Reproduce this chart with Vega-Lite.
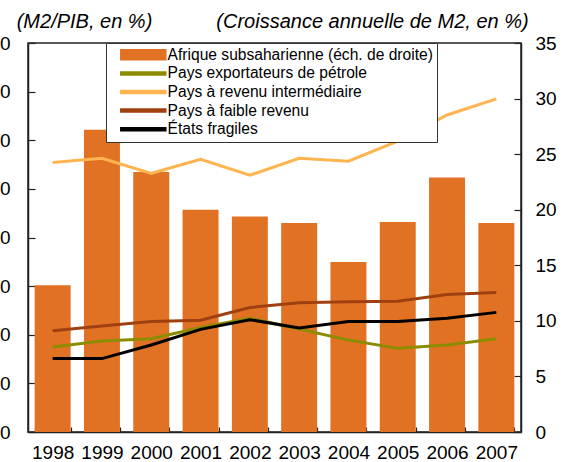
{
  "$schema": "https://vega.github.io/schema/vega-lite/v6.json",
  "width": 493,
  "height": 389,
  "autosize": {"type": "none"},
  "padding": {"left": 28, "top": 43, "right": 48, "bottom": 30},
  "config": {
    "view": {"stroke": "#222", "strokeWidth": 1.5},
    "font": "Liberation Sans",
    "axis": {"grid": false, "domainColor": "#222", "domainWidth": 1.5, "tickColor": "#222", "tickWidth": 1.2, "labelColor": "#000", "labelFont": "Liberation Sans", "labelFontSize": 19, "titleFont": "Liberation Sans", "titleFontSize": 20, "titleFontStyle": "italic", "titleFontWeight": "normal", "titleColor": "#000"}
  },
  "data": {
    "values": [
      {"year": "1998", "series": "Afrique subsaharienne (éch. de droite)", "value": 13.2},
      {"year": "1999", "series": "Afrique subsaharienne (éch. de droite)", "value": 27.2},
      {"year": "2000", "series": "Afrique subsaharienne (éch. de droite)", "value": 23.4},
      {"year": "2001", "series": "Afrique subsaharienne (éch. de droite)", "value": 20.0},
      {"year": "2002", "series": "Afrique subsaharienne (éch. de droite)", "value": 19.4},
      {"year": "2003", "series": "Afrique subsaharienne (éch. de droite)", "value": 18.8},
      {"year": "2004", "series": "Afrique subsaharienne (éch. de droite)", "value": 15.3},
      {"year": "2005", "series": "Afrique subsaharienne (éch. de droite)", "value": 18.9},
      {"year": "2006", "series": "Afrique subsaharienne (éch. de droite)", "value": 22.9},
      {"year": "2007", "series": "Afrique subsaharienne (éch. de droite)", "value": 18.8},
      {"year": "1998", "series": "Pays exportateurs de pétrole", "value": 17.5},
      {"year": "1999", "series": "Pays exportateurs de pétrole", "value": 18.7},
      {"year": "2000", "series": "Pays exportateurs de pétrole", "value": 19.2},
      {"year": "2001", "series": "Pays exportateurs de pétrole", "value": 21.5},
      {"year": "2002", "series": "Pays exportateurs de pétrole", "value": 23.4},
      {"year": "2003", "series": "Pays exportateurs de pétrole", "value": 21.2},
      {"year": "2004", "series": "Pays exportateurs de pétrole", "value": 18.9},
      {"year": "2005", "series": "Pays exportateurs de pétrole", "value": 17.2},
      {"year": "2006", "series": "Pays exportateurs de pétrole", "value": 17.9},
      {"year": "2007", "series": "Pays exportateurs de pétrole", "value": 19.2},
      {"year": "1998", "series": "Pays à revenu intermédiaire", "value": 55.4},
      {"year": "1999", "series": "Pays à revenu intermédiaire", "value": 56.3},
      {"year": "2000", "series": "Pays à revenu intermédiaire", "value": 53.2},
      {"year": "2001", "series": "Pays à revenu intermédiaire", "value": 56.1},
      {"year": "2002", "series": "Pays à revenu intermédiaire", "value": 52.8},
      {"year": "2003", "series": "Pays à revenu intermédiaire", "value": 56.3},
      {"year": "2004", "series": "Pays à revenu intermédiaire", "value": 55.7},
      {"year": "2005", "series": "Pays à revenu intermédiaire", "value": 59.8},
      {"year": "2006", "series": "Pays à revenu intermédiaire", "value": 65.2},
      {"year": "2007", "series": "Pays à revenu intermédiaire", "value": 68.5},
      {"year": "1998", "series": "Pays à faible revenu", "value": 20.8},
      {"year": "1999", "series": "Pays à faible revenu", "value": 21.8},
      {"year": "2000", "series": "Pays à faible revenu", "value": 22.7},
      {"year": "2001", "series": "Pays à faible revenu", "value": 23.0},
      {"year": "2002", "series": "Pays à faible revenu", "value": 25.6},
      {"year": "2003", "series": "Pays à faible revenu", "value": 26.6},
      {"year": "2004", "series": "Pays à faible revenu", "value": 26.8},
      {"year": "2005", "series": "Pays à faible revenu", "value": 26.9},
      {"year": "2006", "series": "Pays à faible revenu", "value": 28.3},
      {"year": "2007", "series": "Pays à faible revenu", "value": 28.7},
      {"year": "1998", "series": "États fragiles", "value": 15.1},
      {"year": "1999", "series": "États fragiles", "value": 15.1},
      {"year": "2000", "series": "États fragiles", "value": 17.9},
      {"year": "2001", "series": "États fragiles", "value": 21.1},
      {"year": "2002", "series": "États fragiles", "value": 23.1},
      {"year": "2003", "series": "États fragiles", "value": 21.4},
      {"year": "2004", "series": "États fragiles", "value": 22.7},
      {"year": "2005", "series": "États fragiles", "value": 22.7},
      {"year": "2006", "series": "États fragiles", "value": 23.4},
      {"year": "2007", "series": "États fragiles", "value": 24.6}
    ]
  },
  "layer": [
    {
      "transform": [{"filter": "datum.series === 'Afrique subsaharienne (éch. de droite)'"}],
      "mark": {"type": "bar"},
      "encoding": {
        "x": {
          "field": "year", "type": "ordinal",
          "scale": {"paddingInner": 0.27, "paddingOuter": 0.135},
          "axis": {"title": null, "labelAngle": 0, "tickBand": "extent", "tickSize": -5, "labelPadding": 16, "labelBaseline": "top"}
        },
        "y": {
          "field": "value", "type": "quantitative",
          "scale": {"domain": [0, 35], "nice": false},
          "axis": {"orient": "right", "values": [0, 5, 10, 15, 20, 25, 30, 35], "tickSize": -7, "labelPadding": 21, "labelAlign": "left",
                   "title": "(Croissance annuelle de M2, en %)", "titleAngle": 0, "titleAlign": "center", "titleBaseline": "alphabetic", "titleX": -149, "titleY": -16}
        },
        "color": {
          "field": "series", "type": "nominal",
          "scale": {
            "domain": ["Afrique subsaharienne (éch. de droite)", "Pays exportateurs de pétrole", "Pays à revenu intermédiaire", "Pays à faible revenu", "États fragiles"],
            "range": ["#E27223", "#8C8C00", "#FFB450", "#A04010", "#000000"]
          },
          "legend": {
            "title": null, "orient": "none", "legendX": 78, "legendY": 0, "direction": "vertical",
            "strokeColor": "#333", "fillColor": "white", "padding": 4, "symbolOffset": 8,
            "symbolSize": 100, "symbolType": "M-1,-0.3H8V0.3H-1Z",
            "labelFont": "Liberation Sans", "labelFontSize": 15.6, "labelColor": "#000", "labelOffset": 34, "labelLimit": 400, "rowPadding": 1.6,
            "encode": {
              "symbols": {
                "update": {
                  "shape": [{"test": "datum.value === 'Afrique subsaharienne (éch. de droite)'", "value": "M-1,-1H8V1H-1Z"}, {"value": "M-1,-0.3H8V0.3H-1Z"}],
                  "fill": {"signal": "scale('color', datum.value)"},
                  "stroke": {"value": "transparent"},
                  "opacity": {"value": 1}
                }
              }
            }
          }
        }
      }
    },
    {
      "transform": [{"filter": "datum.series !== 'Afrique subsaharienne (éch. de droite)'"}],
      "mark": {"type": "line", "strokeWidth": 3},
      "encoding": {
        "x": {"field": "year", "type": "ordinal"},
        "y": {
          "field": "value", "type": "quantitative",
          "scale": {"domain": [0, 80], "nice": false},
          "axis": {"orient": "left", "values": [0, 10, 20, 30, 40, 50, 60, 70, 80], "tickSize": -7, "labelPadding": 25, "labelAlign": "right",
                   "title": "(M2/PIB, en %)", "titleAngle": 0, "titleAlign": "center", "titleBaseline": "alphabetic", "titleX": 56, "titleY": -16}
        },
        "color": {"field": "series", "type": "nominal"}
      }
    }
  ],
  "resolve": {"scale": {"y": "independent"}}
}
